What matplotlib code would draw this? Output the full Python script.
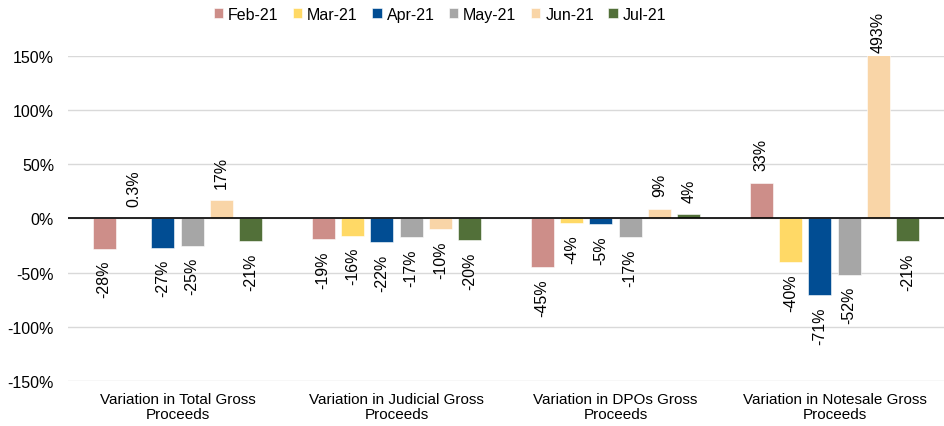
import numpy as np
import matplotlib
matplotlib.use('Agg')
import matplotlib.pyplot as plt

plt.rcParams['font.family'] = ['Liberation Sans', 'DejaVu Sans']

categories = ['Variation in Total Gross\nProceeds', 'Variation in Judicial Gross\nProceeds',
              'Variation in DPOs Gross\nProceeds', 'Variation in Notesale Gross\nProceeds']
months = ['Feb-21', 'Mar-21', 'Apr-21', 'May-21', 'Jun-21', 'Jul-21']
colors = ['#CD8E89', '#FFD966', '#014D93', '#A6A6A6', '#F9D5A7', '#527039']

values = [
    [-28, 0.3, -27, -25, 17, -21],
    [-19, -16, -22, -17, -10, -20],
    [-45, -4, -5, -17, 9, 4],
    [33, -40, -71, -52, 493, -21],
]
labels = [
    ['-28%', '0.3%', '-27%', '-25%', '17%', '-21%'],
    ['-19%', '-16%', '-22%', '-17%', '-10%', '-20%'],
    ['-45%', '-4%', '-5%', '-17%', '9%', '4%'],
    ['33%', '-40%', '-71%', '-52%', '493%', '-21%'],
]

fs = 11.5
fig = plt.figure(figsize=(9.44, 4.27), dpi=100)
ax = fig.add_axes([0.072, 0.1054, 0.928, 0.7611])

ymin, ymax = -150, 150
step = 0.134
width = 0.105
x = np.arange(len(categories)) + 0.5

for j, m in enumerate(months):
    vals = [values[i][j] for i in range(len(categories))]
    pos = x + (j - 2.5) * step
    ax.bar(pos, vals, width=width, color=colors[j], label=m, zorder=3,
           edgecolor='white', linewidth=0.4)
    for i, v in enumerate(vals):
        yv = min(v, ymax)
        if v >= 0:
            off = 3 if v > ymax else 9
            ax.annotate(labels[i][j], (pos[i], yv), xytext=(0, off), textcoords='offset points',
                        rotation=90, ha='center', va='bottom', fontsize=fs, annotation_clip=False)
        else:
            ax.annotate(labels[i][j], (pos[i], yv), xytext=(0, -8), textcoords='offset points',
                        rotation=90, ha='center', va='top', fontsize=fs, annotation_clip=False)

ax.set_xlim(0, len(categories))
ax.set_ylim(ymin, ymax)
ax.set_yticks(np.arange(-150, 151, 50))
ax.set_yticklabels([f'{t}%' for t in range(-150, 151, 50)], fontsize=fs)
ax.set_xticks(x)
ax.set_xticklabels(categories, fontsize=11, linespacing=1.1)
ax.tick_params(axis='y', length=0, pad=10)
ax.tick_params(axis='x', length=0, pad=8)
ax.yaxis.grid(True, color='#D9D9D9', linewidth=1, zorder=0)
ax.axhline(0, color='black', linewidth=1.2, zorder=4)
for s in ax.spines.values():
    s.set_visible(False)

fig.legend(loc='upper center', bbox_to_anchor=(0.466, 1.015), ncol=6, frameon=False,
           fontsize=fs, handlelength=0.6, handleheight=0.6, handletextpad=0.3, columnspacing=0.9)

fig.savefig('out.png', dpi=100)
